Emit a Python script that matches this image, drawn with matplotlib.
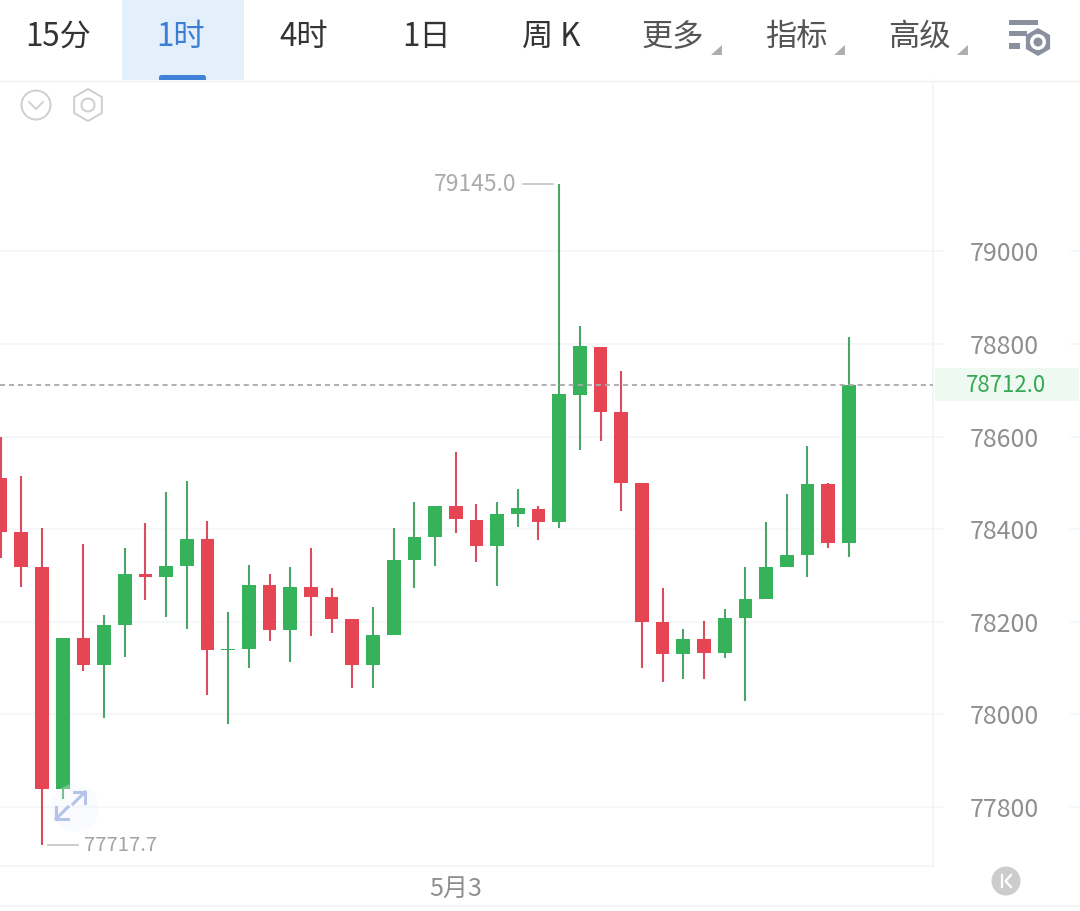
import matplotlib
matplotlib.use('Agg')
import matplotlib.pyplot as plt
from matplotlib.patches import Rectangle, Circle, RegularPolygon, Polygon, FancyBboxPatch
from matplotlib.transforms import blended_transform_factory

plt.rcParams['font.family'] = ['Noto Sans CJK SC', 'DejaVu Sans']

# Candles
opens = [78510, 78393, 78318, 77839, 78165, 78106, 78192, 78304, 78296, 78320, 78379,
         78139, 78142, 78279, 78182, 78274, 78254, 78206, 78107, 78171, 78333, 78382,
         78450, 78420, 78364, 78433, 78444, 78415, 78690, 78793, 78653, 78500, 78200,
         78131, 78162, 78133, 78209, 78250, 78318, 78344, 78497, 78369]
highs = [78599, 78515, 78403, 78165, 78368, 78215, 78359, 78413, 78480, 78504, 78417,
         78220, 78322, 78304, 78318, 78359, 78273, 78206, 78232, 78403, 78459, 78451,
         78566, 78454, 78459, 78487, 78450, 79145, 78839, 78793, 78741, 78500, 78272,
         78184, 78202, 78228, 78318, 78415, 78476, 78579, 78500, 78814]
lows = [78338, 78276, 77717.7, 77817, 78094, 77992, 78124, 78248, 78211, 78184, 78041,
        77980, 78101, 78158, 78114, 78170, 78176, 78056, 78057, 78171, 78273, 78321,
        78391, 78329, 78278, 78405, 78377, 78402, 78571, 78590, 78439, 78101, 78070,
        78076, 78077, 78122, 78028, 78250, 78318, 78296, 78359, 78340]
closes = [78393, 78318, 77839, 78165, 78106, 78192, 78304, 78296, 78320, 78379, 78139,
          78142, 78279, 78182, 78274, 78254, 78206, 78107, 78171, 78333, 78382, 78451,
          78421, 78364, 78433, 78445, 78416, 78692, 78795, 78653, 78500, 78200, 78131,
          78163, 78133, 78209, 78250, 78318, 78344, 78498, 78371, 78712]

price_ticks = [77800, 78000, 78200, 78400, 78600, 78800, 79000]
last_price = 78712.0
date_pos = [22]
date_labels = ['5月3']
tab_labels = ['15分', '1时', '4时', '1日', '周 K', '更多', '指标', '高级']

GREEN = '#36b25a'
GREEN_WICK = '#4aa566'
RED = '#e64553'
RED_WICK = '#d94c5e'
GRID = '#f4f6f7'
BODY_W = 0.66

W, H = 1080, 911
fig = plt.figure(figsize=(W / 100, H / 100), dpi=100, facecolor='white')

# Main chart area: x 0-933, y 80-866 in pixels
ax = fig.add_axes([0, (H - 866) / H, 933 / W, (866 - 80) / H])
ax.set_xlim(-0.03, 45.07)
ax.set_ylim(77672.5, 79370)
ax.set_axisbelow(True)
ax.grid(axis='y', color=GRID, lw=1.2)
for name, spine in ax.spines.items():
    spine.set_visible(name in ('right', 'bottom'))
    spine.set_color('#f2f3f5')
    spine.set_linewidth(1.2)

ax.yaxis.tick_right()
ax.set_yticks(price_ticks)
ax.set_yticklabels([str(t) for t in price_ticks], fontsize=18, color='#8f8f8f')
ax.tick_params(axis='y', length=0, pad=26.5)
ax.set_xticks(date_pos)
ax.set_xticklabels(date_labels, fontsize=18, color='#8f8f8f')
ax.tick_params(axis='x', length=0, pad=7)

# Grid stubs either side of the price labels
trans = blended_transform_factory(ax.transAxes, ax.transData)
ax.hlines(price_ticks, 1.0, 1.012, transform=trans, color=GRID, lw=1.2, clip_on=False)
ax.hlines(price_ticks, 1.147, 1.158, transform=trans, color=GRID, lw=1.2, clip_on=False)

# Candles
for i in range(len(opens)):
    up = closes[i] >= opens[i]
    ax.vlines(i, lows[i], highs[i], color=GREEN_WICK if up else RED_WICK, lw=1.5, zorder=2)
    ax.bar(i, abs(closes[i] - opens[i]), BODY_W, bottom=min(opens[i], closes[i]),
           color=GREEN if up else RED, zorder=3)

# Last price line and tag
ax.axhline(last_price, color='#a9a9a9', lw=1.3, dashes=(2.8, 2.2), zorder=4)
ax.add_patch(Rectangle((1.002, last_price - 36), 0.155, 72, transform=trans,
                       color='#eef9f1', lw=0, clip_on=False))
ax.text(1.0785, last_price - 2, '78712.0', transform=trans, ha='center', va='center',
        fontsize=16, color='#35a853')

# High / low marks
hi = highs.index(max(highs))
lo = lows.index(min(lows))
ax.plot([hi - 1.75, hi - 0.3], [highs[hi], highs[hi]], color='#c4c4c4', lw=1.2)
ax.text(hi - 2.05, highs[hi], '79145.0', ha='right', va='center', fontsize=16.4, color='#ababab')
ax.plot([lo + 0.3, lo + 1.75], [lows[lo], lows[lo]], color='#c4c4c4', lw=1.2)
ax.text(lo + 2.05, lows[lo], '77717.7', ha='left', va='center', fontsize=14.6, color='#a3a3a3')

# UI layer in pixel coordinates, toolbar and icons
ui = fig.add_axes([0, 0, 1, 1], facecolor='none')
ui.set_xlim(0, W)
ui.set_ylim(H, 0)
ui.axis('off')

ui.add_patch(Rectangle((122, 0), 122, 80, color='#e3effb', lw=0))
ui.add_patch(FancyBboxPatch((159, 75), 47, 7, boxstyle='round,pad=0,rounding_size=2.5', color='#3f82d8', lw=0))
ui.add_patch(Rectangle((0, 80), W, 2, color='white', lw=0))
ui.plot([0, W], [80.5, 80.5], color='#f0f1f3', lw=1)
ui.plot([0, W], [906, 906], color='#f2f3f5', lw=1.5)

tab_x = [58, 181, 304, 427, 551, 673, 796, 919]
tab_colors = ['#333333', '#3a7fd5', '#333333', '#333333', '#333333', '#555555', '#555555', '#555555']
for x, lab, c in zip(tab_x, tab_labels, tab_colors):
    ui.text(x, 37, lab, ha='center', va='center', fontsize=22.5, color=c)
for x in [711, 834, 957]:
    ui.add_patch(Polygon([[x + 10.5, 45], [x + 10.5, 55], [x, 55]], color='#aeaeae', lw=0))

# settings icon
for x0, x1, y0, y1 in [(1009, 1038, 20, 25), (1009, 1027, 31, 36), (1009, 1020, 43, 49)]:
    ui.add_patch(Rectangle((x0, y0), x1 - x0, y1 - y0, color='#8a90a0', lw=0))
ui.add_patch(RegularPolygon((1038, 42), 6, radius=14, color='#8a90a0', lw=0))
ui.add_patch(Circle((1038, 42), 8, color='white', lw=0))
ui.add_patch(Circle((1038, 42), 4.5, color='#8a90a0', lw=0))

# chevron and hexagon icons, top left of chart
ui.add_patch(Circle((36, 105), 14.5, fc='none', ec='#cfcfcf', lw=1.4))
ui.plot([29, 36, 43], [102, 109, 102], color='#cfcfcf', lw=1.3)
ui.add_patch(RegularPolygon((88, 105), 6, radius=16, fc='none', ec='#cfcfcf', lw=1.4))
ui.add_patch(Circle((88, 105), 6.5, fc='none', ec='#cfcfcf', lw=1.4))

# expand icon
ui.add_patch(Circle((75, 808), 24, color='#eef2fc', lw=0, zorder=0.5, alpha=0.3))
ui.plot([74, 85, 85], [792, 792, 803], color='#b3c3ea', lw=2.2)
ui.plot([73, 85], [804, 792], color='#b3c3ea', lw=2.2)
ui.plot([56, 56, 68], [807, 819, 819], color='#b3c3ea', lw=2.2)
ui.plot([56, 68], [819, 807], color='#b3c3ea', lw=2.2)

# K button
ui.add_patch(Circle((1006, 881), 14.5, color='#cccccc', lw=0))
ui.plot([1002, 1002], [875, 887], color='white', lw=1.6)
ui.plot([1011, 1005.5, 1011], [875, 881, 887], color='white', lw=1.6)

fig.savefig('out.png', dpi=100)
